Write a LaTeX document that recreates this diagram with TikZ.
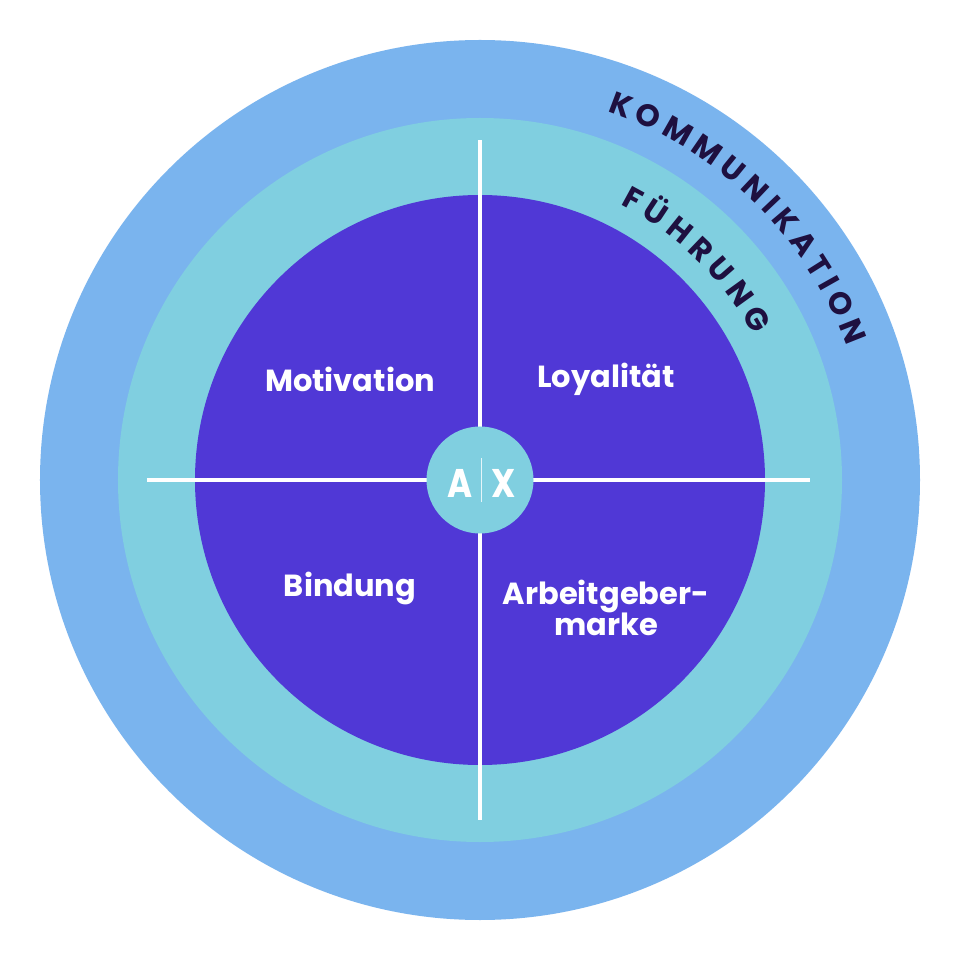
\documentclass[tikz,border=0pt]{standalone}
\usepackage{fontspec}
\setmainfont{Poppins}
\usetikzlibrary{decorations.text}
\definecolor{outerc}{HTML}{7AB4EE}
\definecolor{midc}{HTML}{80CFE0}
\definecolor{innerc}{HTML}{5038D6}
\definecolor{darkt}{HTML}{1E1040}
\begin{document}
\begin{tikzpicture}[x=1pt,y=1pt,
  lbl/.style={text=white,font=\fontsize{30.5}{35}\selectfont\bfseries,align=center}]
\useasboundingbox (-480,-480) rectangle (480,480);
\fill[white] (-480,-480) rectangle (480,480);
\node[circle,fill=outerc,minimum size=880,inner sep=0] (outer) at (0,0) {};
\node[circle,fill=midc,minimum size=724,inner sep=0] (mid) at (0,0) {};
\node[circle,fill=innerc,minimum size=570,inner sep=0] (inner) at (0,0) {};
\coordinate (vt) at (0,340); \coordinate (vb) at (0,-340);
\coordinate (hl) at (-333,0); \coordinate (hr) at (330,0);
\draw[white,line width=3.5] (vt) -- (vb);
\draw[white,line width=3.5] (hl) -- (hr);
\node[circle,fill=midc,minimum size=107,inner sep=0] (ax) at (0,0) {};
\node[text=white,font=\fontsize{40}{40}\selectfont\bfseries,xscale=0.85] (a) at (-20,-3) {A};
\node[text=white,font=\fontsize{40}{40}\selectfont\bfseries,xscale=0.85] (x) at (24,-3) {X};
\draw[white!80!midc,line width=0.6] (1,-22) -- (1,22);
\node[lbl] (mot) at (-130,101) {Motivation};
\node[lbl] (loy) at (126,101) {Loyalität};
\node[lbl] (bin) at (-130,-108) {Bindung};
\node[lbl] (arb) at (126,-128) {Arbeitgeber-\\[-4pt]marke};
\path[decorate,decoration={text along path,text align={fit to path},
  text={|\fontsize{31}{31}\selectfont\bfseries\color{darkt}|KOMMUNIKATION}}]
  (71:390) arc[start angle=71,end angle=20,radius=390];
\path[decorate,decoration={text along path,text align={fit to path},
  text={|\fontsize{31}{31}\selectfont\bfseries\color{darkt}|FÜHRUNG}}]
  (63:309) arc[start angle=63,end angle=28,radius=309];
\end{tikzpicture}
\end{document}
